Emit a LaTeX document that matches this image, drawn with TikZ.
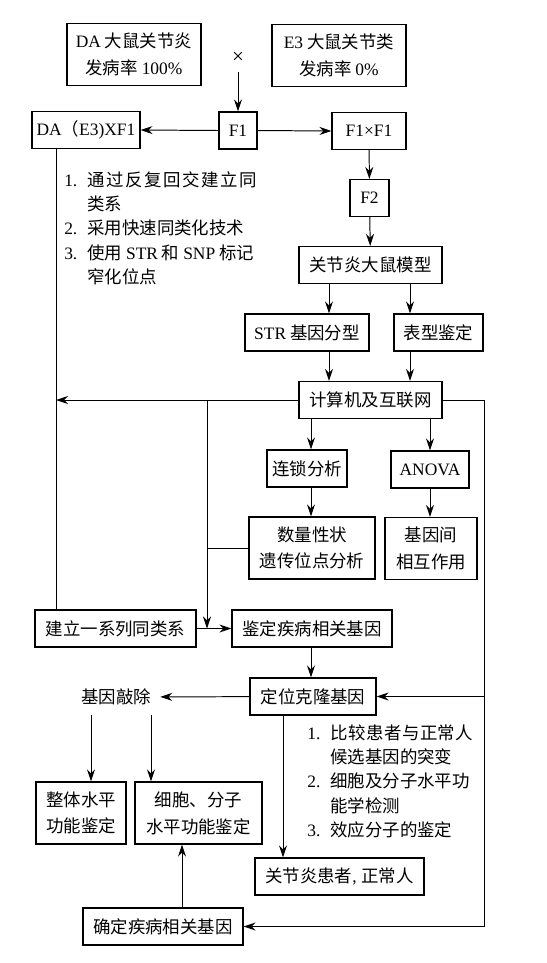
\documentclass[tikz,border=0pt]{standalone}
\usepackage{fontspec}
\setmainfont{Noto Sans CJK SC}
\newfontfamily\lat{Liberation Serif}
\newcommand{\en}[1]{{\lat #1}}
\usetikzlibrary{arrows.meta}

\begin{document}
\begin{tikzpicture}[x=0.025cm, y=-0.025cm,
	every node/.style={font=\fontsize{12.4}{19}\selectfont},
	blk/.style={draw, line width=0.8pt, inner sep=0pt, align=center, minimum height=0.925cm},
	tall/.style={blk, minimum height=1.55cm},
	arr/.style={line width=0.7pt, -{Stealth[length=0.3cm, width=0.2cm]}},
	wire/.style={line width=0.7pt}]
	\useasboundingbox (0,0) rectangle (547,963);
	% Crossing:
	\node[tall, minimum width=3.35cm] (da) at (134,54.5) {\en{DA} 大鼠关节炎\\发病率 \en{100\%}};
	\node[tall, minimum width=3.35cm] (ee) at (339,55.5) {\en{E3} 大鼠关节类\\发病率 \en{0\%}};
	\node[inner sep=0pt, minimum height=0.7cm] (cross) at (238,58) {\fontsize{15}{15}\selectfont\en{×}};
	\node[blk, minimum width=0.95cm] (fone) at (238,130.5) {\en{F1}};
	\node[blk, minimum width=2.7cm] (bc) at (86,130) {\en{DA}（\en{E3)XF1}};
	\node[blk, minimum width=1.85cm] (ff) at (369,131) {\en{F1×F1}};
	\node[blk, minimum width=0.975cm] (ftwo) at (369.5,198) {\en{F2}};
	\node[anchor=base west, inner sep=0pt] (stepsa) at (64,186) {\fontsize{12.4}{17.4}\selectfont
		\begin{tabular}[t]{@{}p{0.575cm}@{}l@{}}
			\en{1.} & \makebox[4.25cm][s]{通\hfill 过\hfill 反\hfill 复\hfill 回\hfill 交\hfill 建\hfill 立\hfill 同}\\
			& 类系\\
			\en{2.} & 采用快速同类化技术\\
			\en{3.} & 使用 \en{STR} 和 \en{SNP} 标记\\
			& 窄化位点
		\end{tabular}};
	% Model and analysis:
	\node[blk, minimum width=3.575cm] (model) at (370.5,265) {关节炎大鼠模型};
	\node[blk, minimum width=3.1cm] (str) at (307,332.5) {\en{STR} 基因分型};
	\node[blk, minimum width=2.225cm] (pheno) at (438.5,332.5) {表型鉴定};
	\node[blk, minimum width=3.575cm] (comp) at (370.5,400) {计算机及互联网};
	\node[blk, minimum width=2cm] (link) at (307,468.5) {连锁分析};
	\node[blk, minimum width=1.95cm] (anova) at (430,469.5) {\en{ANOVA}};
	\node[tall, minimum width=3.15cm] (qtl) at (312,548) {数量性状\\遗传位点分析};
	\node[tall, minimum width=2.3cm] (inter) at (431,548.5) {基因间\\相互作用};
	\node[blk, minimum width=4.025cm] (cong) at (115.5,628.5) {建立一系列同类系};
	\node[blk, minimum width=4cm] (ident) at (312,628.5) {鉴定疾病相关基因};
	% Cloning and function:
	\node[blk, minimum width=3.15cm] (clone) at (313,696.5) {定位克隆基因};
	\node[inner sep=0pt, minimum height=0.9cm, minimum width=2.2cm] (ko) at (116,697) {基因敲除};
	\node[tall, minimum width=2.25cm] (whole) at (81,813) {整体水平\\功能鉴定};
	\node[tall, minimum width=3.175cm] (cell) at (198.5,813) {细胞、分子\\水平功能鉴定};
	\node[anchor=base west, inner sep=0pt] (stepsb) at (307,739) {\fontsize{12.4}{17.4}\selectfont
		\begin{tabular}[t]{@{}p{0.575cm}@{}l@{}}
			\en{1.} & \makebox[3.575cm][s]{比\hfill 较\hfill 患\hfill 者\hfill 与\hfill 正\hfill 常\hfill 人}\\
			& 候选基因的突变\\
			\en{2.} & 细胞及分子水平功\\
			& 能学检测\\
			\en{3.} & 效应分子的鉴定
		\end{tabular}};
	\node[blk, minimum width=4.225cm] (pat) at (339.5,876.5) {关节炎患者\en{,}\hspace{0.12cm}正常人};
	\node[blk, minimum width=4cm] (conf) at (163,926.5) {确定疾病相关基因};
	% Columns of the connectors:
	\coordinate (xa) at (329,0);
	\coordinate (xb) at (410,0);
	\coordinate (xc) at (311,0);
	\coordinate (xd) at (430,0);
	\coordinate (xj) at (207,0);
	\coordinate (xl) at (56,0);
	\coordinate (xr) at (484,0);
	\coordinate (xk1) at (91,0);
	\coordinate (xk2) at (151,0);
	\coordinate (xp) at (283,0);
	\coordinate (xq) at (182,0);
	% Connectors:
	\draw[arr] (cross.south) -- (fone.north);
	\draw[arr] (fone.west) -- (bc.east);
	\draw[arr] (fone.east) -- (ff.west);
	\draw[arr] (ff) -- (ftwo);
	\draw[arr] (ftwo) -- (model);
	\draw[arr] (model.south -| xa) -- (str.north -| xa);
	\draw[arr] (model.south -| xb) -- (pheno.north -| xb);
	\draw[arr] (str.south -| xa) -- (comp.north -| xa);
	\draw[arr] (pheno.south -| xb) -- (comp.north -| xb);
	\draw[arr] (comp.west) -- (comp.west -| xl);
	\draw[wire] (bc.south -| xl) -- (cong.north -| xl);
	\draw[arr] (comp.west -| xj) -- (cong.east -| xj);
	\draw[wire] (qtl.west) -- (qtl.west -| xj);
	\draw[arr] (comp.south -| xc) -- (link.north -| xc);
	\draw[arr] (comp.south -| xd) -- (anova.north -| xd);
	\draw[arr] (link.south -| xc) -- (qtl.north -| xc);
	\draw[arr] (anova.south -| xd) -- (inter.north -| xd);
	\draw[arr] (cong) -- (ident);
	\draw[arr] (ident.south -| xc) -- (clone.north -| xc);
	\draw[arr] (comp.east) -| (conf.east -| xr) -- (conf.east);
	\draw[arr] (clone.east -| xr) -- (clone.east);
	\draw[arr] (clone) -- (ko);
	\draw[arr] (ko.south -| xk1) -- (whole.north -| xk1);
	\draw[arr] (ko.south -| xk2) -- (cell.north -| xk2);
	\draw[arr] (clone.south -| xp) -- (pat.north -| xp);
	\draw[arr] (conf.north -| xq) -- (cell.south -| xq);
\end{tikzpicture}
\end{document}
